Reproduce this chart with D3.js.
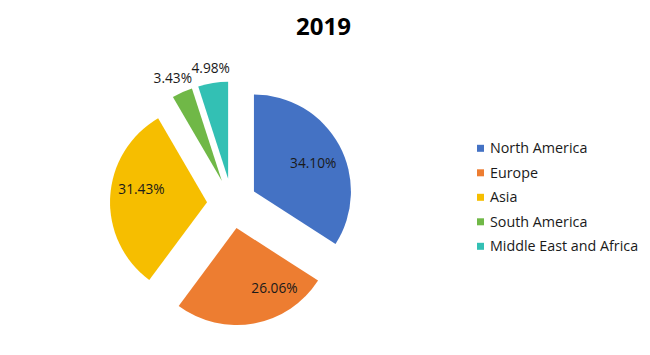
<!DOCTYPE html>
<html>
<head>
<meta charset="utf-8">
<script src="https://cdn.jsdelivr.net/npm/d3@7"></script>
<style>
  html, body { margin: 0; padding: 0; background: #fff; }
  svg { display: block; }
</style>
</head>
<body>
<svg id="chart" width="650" height="355"></svg>
<script>
// ---- data ----
const title = "2019";
const regions = ["North America", "Europe", "Asia", "South America", "Middle East and Africa"];
const shares = [34.10, 26.06, 31.43, 3.43, 4.98];
const colors = ["#4472C4", "#ED7D31", "#F6BE00", "#70B847", "#33C0B4"];

// ---- layout (not data) ----
const W = 650, H = 355;
const cx = 232, cy = 203.5, R = 97, explode = 25;
// label placement: fraction along slice angle, radius as multiple of R (from slice vertex)
const labelT = [0.525, 0.268, 0.574, 0.378, 0.498];
const labelK = [0.677, 0.737, 0.69, 1.17, 1.15];

const svg = d3.select("#chart");
const font = "'Open Sans', 'Liberation Sans', sans-serif";

svg.append("text")
  .attr("x", 323.5).attr("y", 35)
  .attr("text-anchor", "middle")
  .attr("font-family", font)
  .attr("font-weight", "bold")
  .attr("font-size", 24)
  .attr("fill", "#000")
  .text(title);

const data = regions.map((r, i) => ({ region: r, value: shares[i], color: colors[i], i }));
const pie = d3.pie().sort(null).value(d => d.value);
const arcs = pie(data);
const arc = d3.arc().innerRadius(0).outerRadius(R);

const g = svg.append("g").attr("transform", `translate(${cx},${cy})`);

const slice = g.selectAll("g.slice").data(arcs).enter().append("g")
  .attr("class", "slice")
  .attr("transform", d => {
    const a = (d.startAngle + d.endAngle) / 2;
    return `translate(${explode * Math.sin(a)},${-explode * Math.cos(a)})`;
  });

slice.append("path")
  .attr("d", arc)
  .attr("fill", d => d.data.color);

slice.append("text")
  .attr("x", d => {
    const a = d.startAngle + labelT[d.index] * (d.endAngle - d.startAngle);
    return labelK[d.index] * R * Math.sin(a);
  })
  .attr("y", d => {
    const a = d.startAngle + labelT[d.index] * (d.endAngle - d.startAngle);
    return -labelK[d.index] * R * Math.cos(a);
  })
  .attr("dy", "0.35em")
  .attr("text-anchor", "middle")
  .attr("font-family", font)
  .attr("font-size", 13.7)
  .attr("fill", "#1a1a1a")
  .text(d => d.data.value.toFixed(2) + "%");

// ---- legend ----
const legY = d3.scalePoint().domain(regions).range([148.3, 246.3]);
const leg = svg.append("g").selectAll("g").data(data).enter().append("g")
  .attr("transform", d => `translate(477, ${legY(d.region)})`);
leg.append("rect")
  .attr("x", 0).attr("y", -3.5).attr("width", 7).attr("height", 7)
  .attr("fill", d => d.color);
leg.append("text")
  .attr("x", 13).attr("y", 0).attr("dy", "0.35em")
  .attr("font-family", font)
  .attr("font-size", 14.3)
  .attr("fill", "#1a1a1a")
  .text(d => d.region);
</script>
</body>
</html>
